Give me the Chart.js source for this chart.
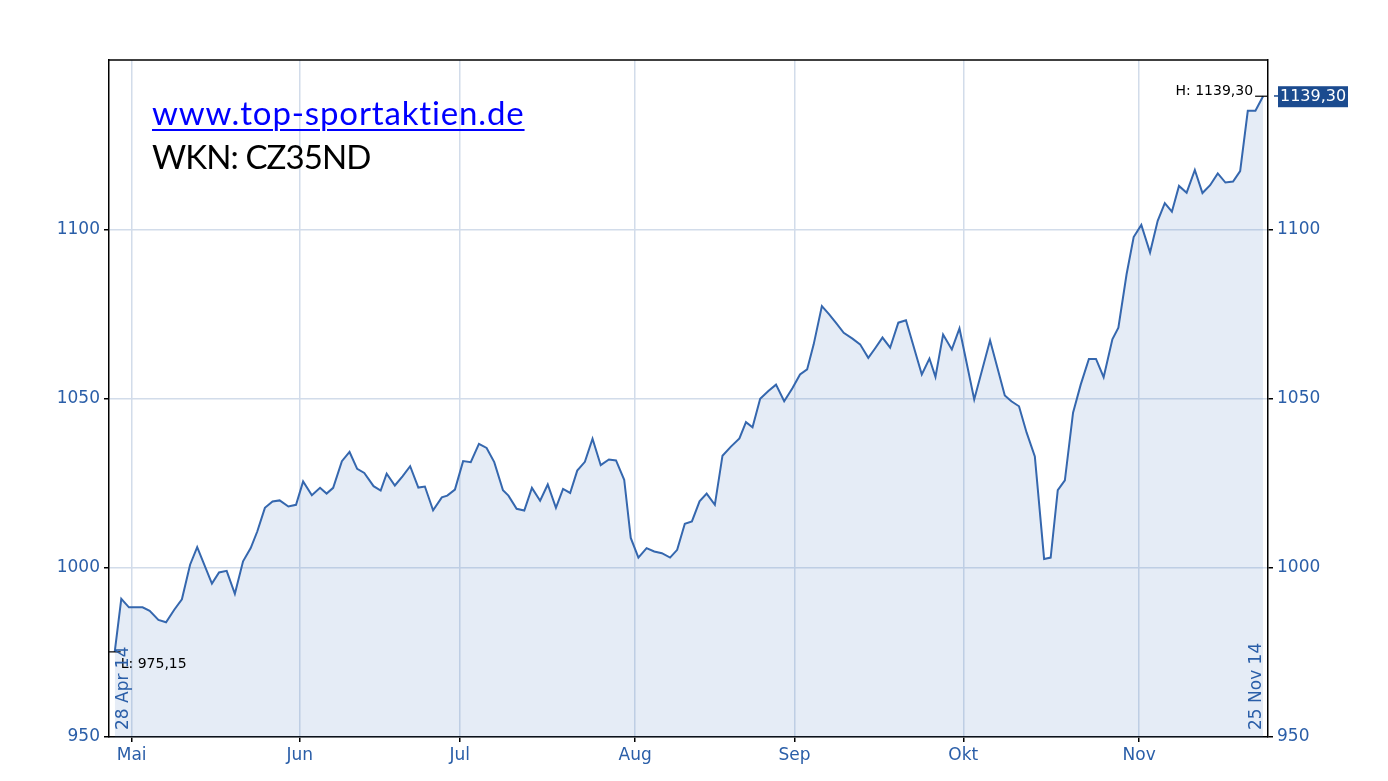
<!DOCTYPE html>
<html lang="de">
<head>
    <meta charset="UTF-8">
    <title>CZ35ND</title>
    <script src="https://cdn.jsdelivr.net/npm/chart.js"></script>
    <style>
        body { margin: 0; background: #fff; }
        #wrap { position: relative; width: 1388px; height: 781px; }
        .note { position: absolute; left: 152px; font-family: Lato, "Open Sans", sans-serif; font-size: 33px; line-height: 33px; white-space: nowrap; }
        #site { top: 96px; color: #0000ff; letter-spacing: 0.85px; text-decoration: underline; text-decoration-thickness: 2px; text-underline-offset: 4px; }
        #wkn { top: 140px; color: #000; letter-spacing: -0.9px; }
    </style>
</head>
<body>
<div id="wrap">
    <canvas id="chart"></canvas>
    <div class="note" id="site">www.top-sportaktien.de</div>
    <div class="note" id="wkn">WKN: CZ35ND</div>
</div>
<script>
// x position in day units from 28 Apr 14, one point per trading day
const dayOffsets = [
    0, 1.2, 2.6, 5.1, 6.4, 8.0, 9.4, 10.9, 12.3, 13.8, 15.1, 17.8, 19.1, 20.5, 22.0, 23.5, 24.9, 26.1, 27.5, 28.9,
    30.2, 31.8, 33.2, 34.5, 36.1, 37.6, 38.8, 40.0, 41.6, 43.0, 44.4, 45.7, 47.4, 48.7, 49.8, 51.3, 52.7, 54.1, 55.6, 56.8,
    58.3, 59.9, 60.9, 62.3, 63.8, 65.2, 66.7, 68.1, 69.5, 71.1, 72.1, 73.6, 75.0, 76.4, 77.9, 79.3, 80.8, 82.1, 83.4, 84.7,
    86.1, 87.5, 89.0, 90.5, 91.8, 93.3, 94.5, 95.9, 97.4, 98.8, 100.2, 101.7, 103.0, 104.4, 105.7, 107.1, 108.4, 109.9, 111.3, 112.8,
    114.4, 115.6, 116.8, 118.2, 119.7, 121.1, 122.6, 124.1, 125.5, 126.8, 128.0, 129.5, 130.8, 132.2, 133.5, 135.1, 136.5, 138.0, 139.2, 140.6,
    142.0, 143.5, 144.9, 147.8, 149.2, 150.3, 151.7, 153.3, 154.7, 157.4, 160.3, 163.0, 164.2, 165.6, 167.0, 168.5, 170.2, 171.4, 172.7, 174.0,
    175.5, 176.9, 178.4, 179.7, 181.1, 182.7, 183.8, 185.3, 186.6, 188.0, 189.6, 191.0, 192.3, 193.6, 194.9, 196.3, 197.8, 199.2, 200.6, 202.0,
    203.4, 204.8, 206.1, 207.5, 208.9, 210.3
];
const closeValues = [
    975.15, 990.8, 988.3, 988.3, 987.3, 984.6, 983.9, 987.6, 990.7, 1000.9, 1006.1, 995.3, 998.6, 999.1, 992.3, 1001.9, 1005.8, 1010.7, 1017.7, 1019.6,
    1019.9, 1018.1, 1018.6, 1025.5, 1021.4, 1023.6, 1021.9, 1023.6, 1031.5, 1034.2, 1029.2, 1028.0, 1024.1, 1022.8, 1027.8, 1024.3, 1027.0, 1030.0, 1023.7, 1024.0,
    1017.0, 1020.8, 1021.3, 1023.1, 1031.5, 1031.2, 1036.6, 1035.4, 1031.2, 1022.9, 1021.3, 1017.4, 1016.9, 1023.6, 1019.8, 1024.6, 1017.7, 1023.3, 1022.1, 1028.7,
    1031.3, 1038.1, 1030.3, 1032.0, 1031.7, 1026.0, 1008.8, 1003.0, 1005.8, 1004.8, 1004.3, 1003.0, 1005.3, 1013.0, 1013.7, 1019.6, 1021.9, 1018.6, 1033.1, 1035.7,
    1038.2, 1043.0, 1041.5, 1049.9, 1052.2, 1054.1, 1049.2, 1053.0, 1057.1, 1058.6, 1066.0, 1077.3, 1074.9, 1072.1, 1069.4, 1067.7, 1066.0, 1062.0, 1064.7, 1068.0,
    1065.0, 1072.4, 1073.1, 1057.1, 1061.8, 1056.4, 1068.9, 1064.5, 1070.7, 1049.7, 1067.2, 1050.9, 1049.2, 1047.7, 1039.9, 1032.9, 1002.6, 1003.0, 1022.9, 1025.8,
    1045.8, 1054.1, 1061.7, 1061.7, 1056.3, 1067.5, 1070.9, 1086.7, 1097.7, 1101.3, 1093.1, 1102.5, 1107.7, 1105.2, 1112.8, 1110.8, 1117.5, 1110.7, 1113.0, 1116.5,
    1113.8, 1114.1, 1117.2, 1135.0, 1135.0, 1139.3
];
// month starts, as placed on the reference axis
const monthTickDays = [3.1, 33.9, 63.2, 95.3, 124.5, 155.4, 187.6];
const monthLabels = ['Mai', 'Jun', 'Jul', 'Aug', 'Sep', 'Okt', 'Nov'];
const yTickValues = [950, 1000, 1050, 1100];
const firstDateLabel = '28 Apr 14';
const lastDateLabel = '25 Nov 14';

const axisBlue = '#2a5ea8';
const gridColor = '#d2dcea';
const tickFont = { family: 'DejaVu Sans', size: 17 };

function fmt(v) {
    return v.toFixed(2).replace('.', ',');
}

const annotations = {
    id: 'annotations',
    afterDraw(chart) {
        const ctx = chart.ctx;
        const area = chart.chartArea;
        const xs = chart.scales.x, ys = chart.scales.y;
        ctx.save();
        // top border of the plot box
        ctx.strokeStyle = '#000';
        ctx.lineWidth = 1.5;
        ctx.beginPath();
        ctx.moveTo(area.left, area.top);
        ctx.lineTo(area.right, area.top);
        ctx.stroke();

        let hi = 0, lo = 0;
        closeValues.forEach((v, i) => {
            if (v > closeValues[hi]) hi = i;
            if (v < closeValues[lo]) lo = i;
        });

        // high marker
        const hx = xs.getPixelForValue(dayOffsets[hi]);
        const hy = ys.getPixelForValue(closeValues[hi]);
        ctx.lineWidth = 1.2;
        ctx.beginPath();
        ctx.moveTo(hx - 8, hy);
        ctx.lineTo(area.right, hy);
        ctx.stroke();
        ctx.fillStyle = '#000';
        ctx.font = '14px "DejaVu Sans"';
        ctx.textAlign = 'right';
        ctx.textBaseline = 'alphabetic';
        ctx.fillText('H: ' + fmt(closeValues[hi]), hx - 10, hy - 1);

        // last value box on the right axis
        const last = closeValues[closeValues.length - 1];
        const ly = ys.getPixelForValue(last);
        ctx.fillStyle = '#1b4b8f';
        ctx.fillRect(area.right + 10, ly - 10, 70, 21);
        ctx.fillRect(area.right + 6, ly - 1, 4, 1.5);
        ctx.fillStyle = '#fff';
        ctx.font = '16px "DejaVu Sans"';
        ctx.textAlign = 'left';
        ctx.textBaseline = 'middle';
        ctx.fillText(fmt(last), area.right + 12, ly + 1);

        // low marker
        const lx = xs.getPixelForValue(dayOffsets[lo]);
        const lyy = ys.getPixelForValue(closeValues[lo]);
        ctx.strokeStyle = '#000';
        ctx.beginPath();
        ctx.moveTo(area.left, lyy);
        ctx.lineTo(lx + 6, lyy);
        ctx.stroke();
        ctx.fillStyle = '#000';
        ctx.font = '14px "DejaVu Sans"';
        ctx.textAlign = 'left';
        ctx.textBaseline = 'alphabetic';
        ctx.fillText('L: ' + fmt(closeValues[lo]), lx + 6, lyy + 16);

        // vertical start / end dates
        ctx.fillStyle = axisBlue;
        ctx.font = '17px "DejaVu Sans"';
        ctx.textAlign = 'left';
        ctx.textBaseline = 'middle';
        [[xs.getPixelForValue(dayOffsets[0]) + 9, firstDateLabel],
         [xs.getPixelForValue(dayOffsets[dayOffsets.length - 1]) - 7, lastDateLabel]].forEach(([x, t]) => {
            ctx.save();
            ctx.translate(x, area.bottom - 7);
            ctx.rotate(-Math.PI / 2);
            ctx.fillText(t, 0, 0);
            ctx.restore();
        });
        ctx.restore();
    }
};

const yAxis = (pos, width) => ({
    position: pos,
    min: 950,
    max: 1150,
    afterBuildTicks: s => { s.ticks = yTickValues.map(v => ({ value: v })); },
    afterFit: s => { s.width = width; },
    ticks: { color: axisBlue, font: tickFont, padding: 4, callback: v => String(v) },
    grid: { color: gridColor, lineWidth: 1.5, tickColor: '#000', tickLength: 5, drawOnChartArea: pos === 'left' },
    border: { color: '#000', width: 1.5 }
});

new Chart(document.getElementById('chart'), {
    type: 'line',
    data: {
        datasets: [{
            data: dayOffsets.map((d, i) => ({ x: d, y: closeValues[i] })),
            borderColor: '#3567ae',
            borderWidth: 2,
            backgroundColor: 'rgba(70, 120, 190, 0.14)',
            fill: 'start',
            pointRadius: 0,
            tension: 0
        }]
    },
    options: {
        animation: false,
        responsive: true,
        maintainAspectRatio: false,
        layout: { padding: { top: 60, left: 0, right: 0, bottom: 0 } },
        plugins: { legend: { display: false }, tooltip: { enabled: false } },
        scales: {
            x: {
                type: 'linear',
                min: -1.05,
                max: 211.2,
                afterBuildTicks: s => { s.ticks = monthTickDays.map(v => ({ value: v })); },
                afterFit: s => { s.height = 44; },
                ticks: {
                    color: axisBlue,
                    font: tickFont,
                    autoSkip: false,
                    maxRotation: 0,
                    padding: 3,
                    callback: (v, i) => monthLabels[i]
                },
                grid: { color: gridColor, lineWidth: 1.5, tickColor: '#000', tickLength: 5 },
                border: { color: '#000', width: 1.5 }
            },
            y: yAxis('left', 109),
            y2: yAxis('right', 120)
        }
    },
    plugins: [annotations]
});
</script>
</body>
</html>
